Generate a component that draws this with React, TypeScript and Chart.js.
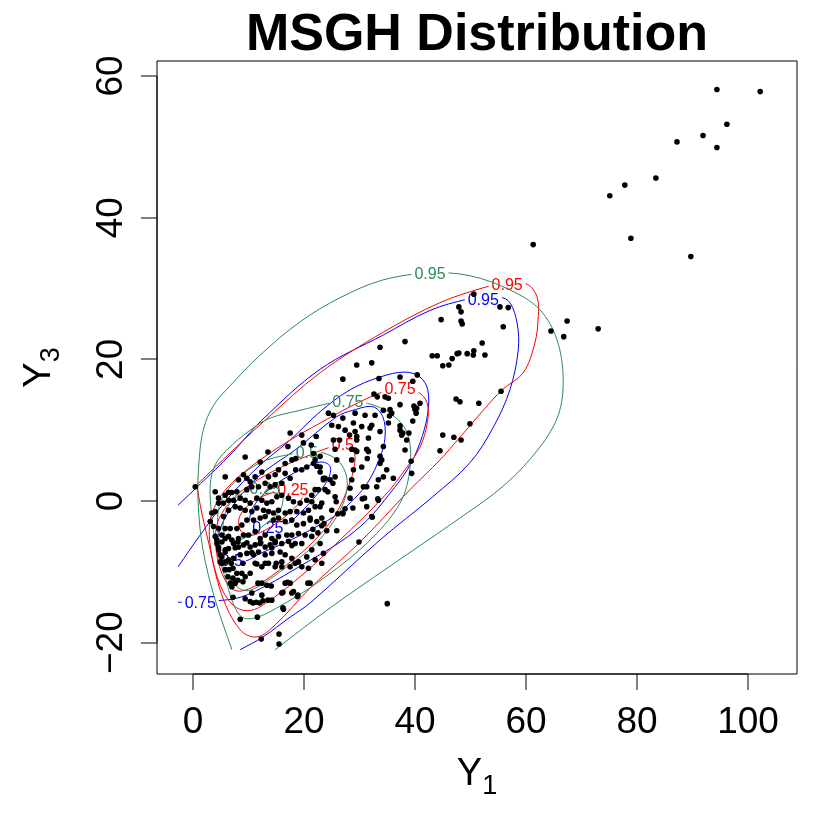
import React, { useEffect, useRef } from "react";
import { Chart, registerables } from "chart.js";

Chart.register(...registerables);

// ---- axis ranges / ticks ----
const X_MIN = -6.49;
const X_MAX = 108.83;
const Y_MIN = -24.43;
const Y_MAX = 62.12;
const xTicks = [0, 20, 40, 60, 80, 100];
const xTickLabels = ["0", "20", "40", "60", "80", "100"];
const yTicks = [-20, 0, 20, 40, 60];
const yTickLabels = ["\u221220", "0", "20", "40", "60"];
const titleText = "MSGH Distribution";

// ---- observations (Y1, Y3) ----
const upperPoints: [number, number][] = [
  [94.4, 58.1], [102.2, 57.8], [96.2, 53.2], [91.9, 51.6], [94.4, 49.9], [87.2, 50.7], [83.4, 45.6],
  [77.8, 44.6], [75.1, 43.1], [78.9, 37.1], [89.7, 34.5], [61.3, 36.2], [55.3, 27.4], [56.8, 27.3],
  [55.9, 24.6], [67.4, 25.4], [64.5, 24.0], [66.8, 23.2], [73.0, 24.3],
  [50.6, 29.2], [47.9, 27.4], [48.3, 26.7], [48.3, 25.4], [48.5, 25.0], [44.7, 25.6], [38.2, 22.5],
  [52.1, 22.3], [50.6, 21.2], [50.5, 20.6], [49.4, 20.8], [47.9, 20.9], [47.6, 20.8], [46.7, 20.1],
  [46.1, 19.2], [45.0, 19.1], [44.0, 20.5], [43.1, 20.5], [52.6, 20.6], [55.5, 15.5], [47.4, 14.4],
  [48.1, 14.0], [51.5, 13.8], [49.9, 10.9], [45.0, 9.3], [47.0, 9.0], [48.3, 8.6], [44.5, 7.1],
  [40.4, 17.8], [39.6, 16.9], [40.9, 13.8], [39.8, 13.4], [40.0, 12.9], [40.2, 12.4], [39.6, 11.3],
  [38.9, 9.6], [37.8, 9.6], [37.3, 10.6], [35.0, -14.5],
];

const middlePoints: [number, number][] = [
  [27.0, 17.2], [33.5, 17.3], [37.3, 17.5], [32.6, 15.1], [33.2, 14.7], [35.2, 14.5], [40.3, 13.1],
  [37.3, 13.6], [35.8, 12.4], [34.3, 12.8], [32.8, 12.1], [31.0, 12.1], [29.2, 12.4], [27.0, 11.7],
  [25.3, 12.1], [24.4, 12.4], [26.2, 10.5], [27.4, 10.0], [28.9, 11.0], [29.2, 9.8], [30.4, 10.5],
  [32.2, 10.7], [33.7, 9.8], [35.2, 11.0], [37.3, 10.0], [37.6, 9.3], [38.5, 8.6], [34.3, 7.7],
  [31.6, 8.9], [29.5, 8.6], [29.2, 7.2], [31.6, 7.0], [33.7, 6.3], [33.7, 5.3], [34.9, 4.4],
  [36.1, 3.2], [34.3, 3.4], [33.1, 2.0], [30.7, 2.0], [30.4, 4.8], [28.9, 4.4], [28.6, 3.0],
  [25.6, 3.4], [24.7, 3.0], [23.8, 3.2], [22.9, 4.1], [21.7, 5.3], [25.3, 8.6], [28.6, 5.8],
  [25.9, 5.8], [22.9, 6.3], [25.6, 0.6], [23.8, 1.6], [22.0, 1.6],
  [39.4, 3.9], [33.4, 3.0], [32.2, -2.2], [33.4, 0.1], [39.3, 5.6], [38.2, 7.2], [35.4, 12.0],
  [35.5, 12.9], [34.6, 14.7], [29.5, 19.2], [32.2, 19.5], [33.7, 21.7], [22.2, 9.1], [25.0, 10.7],
  [31.9, 10.3], [29.5, 9.1], [28.2, 9.3], [26.4, 8.6], [25.6, 7.3], [28.6, 7.3], [29.5, 7.0],
  [31.3, 7.3], [31.4, 6.0], [23.5, 3.0], [25.2, 2.5], [28.3, 1.8], [31.3, 2.0], [34.0, 5.8],
  [31.3, -0.8], [27.0, -1.7], [22.3, 4.9], [18.5, 6.0], [17.1, 7.7],
  [29.9, -5.8], [32.3, -2.3], [33.3, 0.3], [30.5, 0.3], [30.9, 0.4], [28.8, -1.0], [28.3, 0.4],
  [27.4, -1.1], [27.0, -1.8], [26.1, -1.8], [25.0, -1.3], [25.8, -0.1], [22.9, -0.8], [24.3, 1.3],
  [23.2, -2.4], [23.6, -3.2], [21.6, -4.0], [22.5, -4.5], [24.1, -4.2], [25.9, -4.2], [23.2, -3.5],
  [21.1, -2.4], [21.4, -0.1], [21.1, -11.6],
];

const corePoints: [number, number][] = [
  [17.5, 9.6], [19.6, 9.3], [21.3, 7.9], [19.9, 8.2], [21.7, 6.7], [9.4, 6.2], [13.5, 6.9],
  [12.1, 5.5], [16.6, 5.3], [17.8, 5.8], [18.5, 4.4], [19.6, 4.4], [20.5, 4.8], [22.0, 5.8],
  [22.9, 4.8], [9.1, 3.7], [9.7, 3.2], [8.2, 3.0], [10.3, 2.7], [11.2, 3.4], [12.4, 4.1],
  [13.6, 3.4], [14.8, 3.7], [15.4, 4.4], [16.6, 3.9], [17.5, 3.2], [16.0, 2.5], [14.8, 2.3],
  [13.9, 2.0], [13.0, 2.5], [11.8, 2.0], [10.6, 2.0], [9.7, 1.6], [7.9, 1.3], [7.0, 1.2],
  [6.4, 1.2], [5.8, 0.8], [4.0, 1.3], [4.6, -0.3], [5.5, -0.3], [6.4, 0.1], [7.3, 0.1],
  [8.5, 0.4], [9.4, 0.1], [10.3, -0.3], [11.5, 0.4], [12.4, 0.1], [13.3, -0.3], [14.2, -0.1],
  [15.1, 0.6], [16.0, 0.8], [17.2, 0.4], [18.1, -0.1], [19.3, -0.3], [20.5, 0.1], [21.4, 0.8],
  [22.6, 1.6], [23.5, 3.2], [23.2, -0.3], [22.0, -0.8], [20.8, -1.3], [19.9, -1.7], [18.7, -1.5],
  [17.5, -1.5], [16.6, -1.7], [15.4, -1.3], [14.5, -1.7], [13.6, -1.5], [12.7, -1.3], [11.5, -1.0],
  [10.6, -1.5], [9.4, -1.3], [8.5, -1.0], [7.6, -0.8], [6.4, -1.3], [5.5, -2.2], [4.0, -1.5],
  [3.7, -3.6], [4.6, -3.9], [5.8, -3.9], [6.7, -3.9], [7.9, -3.9], [8.8, -3.4], [9.7, -2.7],
  [10.9, -2.7], [12.1, -2.4], [13.0, -2.2], [14.5, -2.7], [15.4, -2.4], [16.6, -2.9], [17.8, -2.7],
  [18.7, -3.4], [19.9, -3.2], [21.1, -2.7], [22.3, -2.9], [4.0, -5.0], [5.2, -4.8], [5.8, -5.3],
  [6.4, -5.0], [7.0, -5.5], [8.2, -5.3], [9.1, -4.8], [10.0, -4.8], [11.2, -4.3], [12.1, -5.3],
  [13.0, -4.8], [14.2, -5.3], [15.4, -5.0], [16.9, -4.8], [17.8, -4.8], [19.0, -4.6], [20.2, -4.8],
  [21.4, -5.0], [22.9, -6.0], [21.4, -6.9], [19.6, -6.0], [18.4, -6.0], [17.2, -5.7], [16.0, -6.0],
  [14.8, -5.7], [13.9, -6.2], [13.0, -6.5], [12.1, -6.0], [11.2, -6.2], [10.3, -6.5], [9.1, -6.2],
  [8.2, -6.5], [7.3, -6.0], [6.4, -6.7], [5.8, -7.2], [5.2, -7.9], [4.6, -6.5], [4.9, -8.6],
  [6.4, -8.3], [7.3, -8.1], [8.5, -7.6], [9.7, -7.4], [10.9, -7.6], [11.8, -7.2], [13.0, -7.6],
  [14.2, -7.4], [15.7, -7.2], [16.6, -7.6], [17.8, -8.1], [19.0, -8.6], [20.5, -7.9], [22.0, -8.3],
  [23.2, -8.8], [23.5, -7.4], [11.2, -8.8], [12.4, -9.3], [13.6, -8.8], [14.8, -9.3], [16.0, -9.3],
  [17.5, -9.3], [19.6, -9.3], [20.8, -9.5], [0.4, 2.0],
  [5.8, 3.4], [4.6, 0.4], [3.4, -1.7], [3.1, -2.9], [4.3, -5.5], [4.6, -6.9],
];

const lowerPoints: [number, number][] = [
  [12.3, -19.5], [15.5, -18.8], [15.5, -20.2], [8.5, -16.7], [11.4, -14.3], [12.0, -14.4],
  [12.6, -14.1], [13.5, -14.0], [14.2, -14.0], [10.8, -14.4], [9.4, -13.8], [10.6, -13.0],
  [11.7, -11.6], [13.3, -11.9], [12.4, -11.6], [14.1, -12.0], [12.4, -13.3], [16.0, -13.0],
  [16.2, -15.1], [16.6, -11.6], [17.5, -11.6], [17.8, -13.0], [18.9, -13.3], [20.7, -11.6],
  [7.9, -10.2], [8.8, -10.2], [8.1, -11.2], [9.4, -10.7], [9.0, -11.4], [7.2, -10.9], [6.3, -10.7],
  [6.5, -9.7], [5.8, -9.7], [5.8, -8.6], [6.9, -8.8], [7.2, -9.5], [9.0, -8.8], [10.6, -7.3],
  [11.5, -8.9], [13.0, -8.8], [10.3, -10.2], [5.8, -6.9], [4.3, -6.0], [4.9, -7.6], [5.2, -5.8],
  [7.6, -6.6], [8.1, -5.8], [9.7, -5.9], [12.2, -5.9], [14.8, -5.9], [14.2, -6.6], [17.8, -6.3],
  [16.0, -8.6], [17.0, -11.5], [11.6, -16.4], [16.3, -15.3], [18.1, -12.8], [18.8, -13.5],
  [18.4, -8.8], [16.2, -12.9], [15.0, -8.8], [5.2, -8.8], [6.7, -11.6], [7.0, -12.1], [7.6, -11.6],
  [7.2, -13.6], [10.3, -14.2],
];

// ---- contour curves (Y1, Y3) ----
const levelLabels = ["0.25", "0.5", "0.75", "0.95"];

const green25: [number, number][] = [[13.0, 1.7], [10.3, 1.6], [6.7, -0.3], [5.4, -3.7], [6.7, -5.5], [9.7, -5.1], [13.3, -3.1], [15.7, -1.3], [16.2, 1.0], [15.1, 1.8], [13.0, 1.7]];
const green50: [number, number][] = [[20.5, 6.8], [17.5, 6.6], [12.1, 5.4], [7.9, 3.0], [4.9, -0.3], [4.5, -4.5], [5.4, -9.3], [7.9, -12.1], [10.3, -12.6], [16.2, -9.7], [22.3, -5.9], [26.5, -1.3], [27.8, 2.5], [26.5, 5.4], [23.4, 6.8], [20.5, 6.8]];
const green75: [number, number][] = [[27.9, 14.1], [24.7, 13.8], [19.3, 12.8], [13.9, 11.7], [10.3, 10.0], [6.1, 7.2], [4.0, 5.1], [3.1, 2.3], [3.4, -2.3], [4.3, -6.9], [6.1, -11.6], [7.2, -14.4], [8.8, -16.4], [11.2, -16.5], [15.1, -15.1], [22.3, -11.6], [31.4, -5.9], [37.3, -0.3], [39.1, 4.8], [38.6, 9.6], [35.5, 12.4], [31.4, 13.8], [27.9, 14.1]];
const green95: [number, number][] = [[7.0, -21.0], [4.0, -14.0], [1.8, -6.9], [0.9, 0.1], [1.1, 5.8], [1.9, 10.2], [3.7, 13.5], [6.6, 16.2], [12.1, 20.6], [19.3, 25.3], [26.5, 28.7], [34.2, 31.2], [42.7, 32.2], [49.9, 31.8], [57.1, 29.8], [62.5, 27.0], [65.6, 22.7], [66.7, 17.1], [65.8, 12.1], [62.5, 7.6], [56.2, 2.3], [48.1, -2.4], [35.5, -9.2], [24.7, -15.1], [14.8, -21.0]];

const red25: [number, number][] = [[18.0, 1.6], [15.3, 1.4], [11.2, 0.1], [8.5, -2.0], [8.5, -4.1], [10.3, -4.9], [13.9, -3.7], [17.5, -1.6], [19.8, 0.6], [19.3, 1.6], [18.0, 1.6]];
const red50: [number, number][] = [[27.0, 7.9], [24.7, 7.6], [21.1, 6.5], [15.7, 4.7], [10.3, 2.3], [6.7, -0.1], [4.3, -3.4], [4.3, -7.6], [5.8, -11.2], [7.9, -12.7], [11.2, -12.0], [15.7, -9.7], [21.1, -6.2], [25.6, -2.0], [28.3, 2.7], [29.2, 5.8], [28.7, 7.5], [27.0, 7.9]];
const red75: [number, number][] = [[37.3, 15.8], [34.2, 15.4], [28.3, 13.3], [22.9, 11.0], [17.5, 8.6], [12.1, 5.8], [7.9, 3.2], [4.9, 0.6], [3.1, -2.7], [3.2, -6.9], [4.9, -11.9], [7.2, -14.7], [9.7, -15.5], [12.4, -14.8], [19.3, -10.7], [26.5, -5.5], [34.6, 0.8], [38.2, 4.4], [40.9, 7.6], [42.2, 11.0], [42.2, 13.8], [40.5, 15.4], [37.3, 15.8]];
const red95: [number, number][] = [[0.7, 2.3], [6.7, 6.8], [13.0, 11.4], [22.9, 18.1], [34.2, 23.8], [44.5, 28.0], [52.3, 30.1], [56.6, 30.8], [60.2, 30.6], [62.0, 28.8], [62.2, 26.0], [61.6, 22.3], [59.5, 18.1], [55.7, 15.7], [52.3, 12.8], [48.1, 9.0], [44.5, 5.8], [39.1, 1.6], [30.1, -5.8], [21.1, -12.3], [14.8, -17.5], [11.5, -19.2], [8.5, -18.2], [5.2, -13.3], [2.7, -5.5], [1.3, -0.6], [0.7, 2.3]];

const blue25: [number, number][] = [[13.5, -3.8], [10.6, -3.7], [10.3, -2.0], [11.7, 0.1], [14.8, 2.3], [19.3, 4.4], [22.9, 5.5], [24.7, 4.9], [24.3, 3.0], [22.0, 0.6], [18.9, -2.0], [16.6, -3.4], [13.5, -3.8]];
const blue50: [number, number][] = [[7.0, -8.5], [4.9, -7.3], [4.5, -5.1], [6.3, -1.7], [11.7, 3.4], [18.4, 7.2], [25.9, 11.9], [28.8, 12.8], [32.4, 13.3], [34.2, 11.9], [34.6, 9.0], [33.7, 6.2], [31.4, 2.5], [28.3, -0.3], [25.2, -2.3], [21.1, -4.1], [16.6, -5.9], [12.4, -7.3], [9.4, -8.5], [7.0, -8.5]];
const blue75: [number, number][] = [[-2.7, -9.3], [1.3, -4.8], [5.8, -0.1], [11.7, 4.8], [17.5, 8.6], [22.9, 12.6], [28.3, 15.7], [33.7, 17.5], [38.2, 18.2], [40.9, 17.5], [42.3, 15.7], [42.3, 12.4], [40.9, 8.2], [38.6, 4.4], [35.5, 1.1], [31.4, -2.7], [26.5, -5.8], [19.3, -9.2], [13.3, -11.9], [8.5, -13.6], [4.0, -14.1], [-2.7, -14.3]];
const blue95: [number, number][] = [[-2.7, -0.6], [1.3, 2.4], [6.7, 6.5], [12.4, 11.4], [22.9, 18.6], [34.2, 23.4], [42.7, 26.9], [49.4, 28.5], [52.3, 28.8], [55.3, 28.8], [57.1, 28.0], [58.4, 25.1], [58.6, 21.3], [57.1, 15.7], [54.1, 10.4], [49.9, 5.4], [43.2, 0.6], [33.7, -5.5], [21.1, -14.4], [17.5, -16.4], [12.6, -19.2], [8.5, -21.0]];

const greenLabelAt: [number, number][] = [[13.0, 1.7], [20.5, 6.8], [27.9, 14.0], [42.7, 32.1]];
const redLabelAt: [number, number][] = [[18.0, 1.6], [27.0, 7.9], [37.3, 15.8], [56.6, 30.6]];
const blueLabelAt: [number, number][] = [[13.5, -3.8], [7.0, -8.4], [1.3, -14.3], [52.3, 28.4]];

const GREEN = "#2E8B57";
const RED = "#FF0000";
const BLUE = "#0000FF";

type Contour = { pts: [number, number][]; color: string; label: string; at: [number, number] };

const contours: Contour[] = [
  ...[green25, green50, green75, green95].map((pts, i) => ({ pts, color: GREEN, label: levelLabels[i], at: greenLabelAt[i] })),
  ...[red25, red50, red75, red95].map((pts, i) => ({ pts, color: RED, label: levelLabels[i], at: redLabelAt[i] })),
  ...[blue25, blue50, blue75, blue95].map((pts, i) => ({ pts, color: BLUE, label: levelLabels[i], at: blueLabelAt[i] })),
];

const LABEL_FONT = '16px "Liberation Sans", Arial, sans-serif';

function labelRect(chart: any, c: Contour) {
  const ctx = chart.ctx;
  ctx.save();
  ctx.font = LABEL_FONT;
  const w = ctx.measureText(c.label).width;
  ctx.restore();
  const px = chart.scales.x.getPixelForValue(c.at[0]);
  const py = chart.scales.y.getPixelForValue(c.at[1]);
  return { px, py, x: px - w / 2 - 3, y: py - 8, w: w + 6, h: 16 };
}

const contourLabelPlugin = {
  id: "contourLabels",
  beforeDatasetDraw(chart: any, args: any) {
    const i = args.index;
    if (i === 0) return;
    const c = contours[i - 1];
    const r = labelRect(chart, c);
    const ctx = chart.ctx;
    ctx.save();
    ctx.beginPath();
    ctx.rect(0, 0, chart.width, chart.height);
    ctx.rect(r.x, r.y, r.w, r.h);
    ctx.clip("evenodd");
  },
  afterDatasetDraw(chart: any, args: any) {
    const i = args.index;
    if (i === 0) return;
    const ctx = chart.ctx;
    ctx.restore();
    const c = contours[i - 1];
    const r = labelRect(chart, c);
    ctx.save();
    ctx.font = LABEL_FONT;
    ctx.fillStyle = c.color;
    ctx.textAlign = "center";
    ctx.textBaseline = "middle";
    ctx.fillText(c.label, r.px, r.py + 1);
    ctx.restore();
  },
};

const axesPlugin = {
  id: "rAxes",
  afterDraw(chart: any) {
    const ctx = chart.ctx;
    const xs = chart.scales.x;
    const ys = chart.scales.y;
    const { left, right, top, bottom } = chart.chartArea;
    ctx.save();
    ctx.strokeStyle = "#000";
    ctx.lineWidth = 1;
    // box
    ctx.beginPath();
    ctx.rect(left, top, right - left, bottom - top);
    ctx.stroke();
    // ticks and axis lines
    const tickLen = 16;
    ctx.beginPath();
    ctx.moveTo(xs.getPixelForValue(xTicks[0]), bottom);
    ctx.lineTo(xs.getPixelForValue(xTicks[xTicks.length - 1]), bottom);
    xTicks.forEach((v) => {
      const p = Math.round(xs.getPixelForValue(v));
      ctx.moveTo(p, bottom);
      ctx.lineTo(p, bottom + tickLen);
    });
    ctx.moveTo(left, ys.getPixelForValue(yTicks[0]));
    ctx.lineTo(left, ys.getPixelForValue(yTicks[yTicks.length - 1]));
    yTicks.forEach((v) => {
      const p = Math.round(ys.getPixelForValue(v));
      ctx.moveTo(left, p);
      ctx.lineTo(left - tickLen, p);
    });
    ctx.stroke();

    ctx.fillStyle = "#000";
    ctx.font = '37px "Liberation Sans", Arial, sans-serif';
    ctx.textAlign = "center";
    ctx.textBaseline = "alphabetic";
    xTicks.forEach((v, i) => {
      ctx.fillText(xTickLabels[i], xs.getPixelForValue(v), bottom + 59);
    });
    yTicks.forEach((v, i) => {
      ctx.save();
      ctx.translate(left - 35, ys.getPixelForValue(v));
      ctx.rotate(-Math.PI / 2);
      ctx.fillText(yTickLabels[i], 0, 0);
      ctx.restore();
    });

    // title
    ctx.font = 'bold 52px "Liberation Sans", Arial, sans-serif';
    ctx.fillText(titleText, (left + right) / 2, 50);

    // axis titles with subscripts
    const bigFont = '38px "Liberation Sans", Arial, sans-serif';
    const subFont = '27px "Liberation Sans", Arial, sans-serif';
    const drawSubLabel = (main: string, sub: string, cx: number, cy: number, rot: number) => {
      ctx.save();
      ctx.translate(cx, cy);
      ctx.rotate(rot);
      ctx.textAlign = "left";
      ctx.font = bigFont;
      const w1 = ctx.measureText(main).width;
      ctx.font = subFont;
      const w2 = ctx.measureText(sub).width;
      const start = -(w1 + w2) / 2;
      ctx.font = bigFont;
      ctx.fillText(main, start, 0);
      ctx.font = subFont;
      ctx.fillText(sub, start + w1, 9);
      ctx.restore();
    };
    drawSubLabel("Y", "1", (left + right) / 2, 785, 0);
    drawSubLabel("Y", "3", 50, (top + bottom) / 2, -Math.PI / 2);
    ctx.restore();
  },
};

export default function App() {
  const ref = useRef<HTMLCanvasElement>(null);
  useEffect(() => {
    const canvas = ref.current;
    if (!canvas) return;
    const allPoints = [...upperPoints, ...middlePoints, ...corePoints, ...lowerPoints];
    const contourSets = contours.map((c) => ({
      data: c.pts.map(([x, y]) => ({ x, y })),
      showLine: true,
      borderColor: c.color,
      backgroundColor: c.color,
      borderWidth: 1,
      pointRadius: 0,
      pointHoverRadius: 0,
      pointHitRadius: 0,
      tension: 0.35,
      fill: false,
    }));
    const chart = new Chart(canvas, {
      type: "scatter",
      data: {
        datasets: [
          {
            data: allPoints.map(([x, y]) => ({ x, y })),
            backgroundColor: "#000",
            borderWidth: 0,
            pointRadius: 2.8,
            pointHoverRadius: 2.8,
          } as any,
          ...(contourSets as any[]),
        ],
      },
      options: {
        responsive: false,
        animation: false,
        devicePixelRatio: 1,
        events: [],
        layout: { padding: { left: 157, top: 61, right: 33, bottom: 156 } },
        scales: {
          x: { type: "linear", min: X_MIN, max: X_MAX, display: false },
          y: { type: "linear", min: Y_MIN, max: Y_MAX, display: false },
        },
        plugins: {
          legend: { display: false },
          tooltip: { enabled: false },
          title: { display: false },
        },
      } as any,
      plugins: [contourLabelPlugin as any, axesPlugin as any],
    });
    return () => chart.destroy();
  }, []);
  return (
    <div style={{ position: "fixed", left: 0, top: 0, width: 830, height: 830, background: "#fff" }}>
      <canvas ref={ref} width={830} height={830} style={{ display: "block" }} />
    </div>
  );
}
